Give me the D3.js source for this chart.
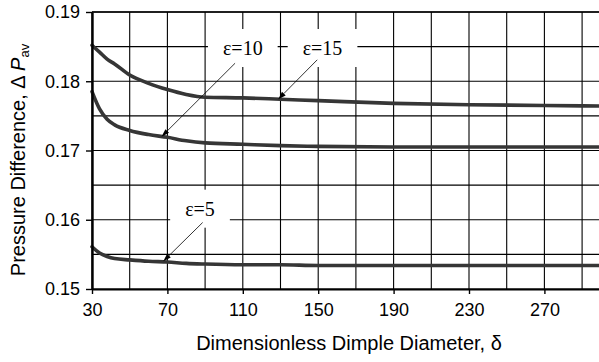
<!DOCTYPE html>
<html>
<head>
<meta charset="utf-8">
<script src="https://cdn.jsdelivr.net/npm/d3@7"></script>
<style>
  html, body { margin: 0; padding: 0; background: #fff; overflow: hidden; }
  svg { display: block; }
</style>
</head>
<body>
<div id="chart"></div>
<script>
// dimensionless dimple diameter (x)
const deltaValues = [30, 34, 38, 42, 50, 60, 70, 80, 90, 110, 130, 150, 190, 230, 270, 310];
// pressure difference for each epsilon
const eps15Values = [0.1852, 0.1842, 0.1832, 0.1825, 0.1809, 0.1797, 0.1788, 0.1781, 0.1777, 0.1776, 0.1774, 0.1772, 0.1768, 0.1766, 0.1765, 0.1764];
const eps10Values = [0.1785, 0.1760, 0.1745, 0.1737, 0.1729, 0.1723, 0.1719, 0.1714, 0.1711, 0.1709, 0.1707, 0.1706, 0.1705, 0.1705, 0.1705, 0.1705];
const eps5Values  = [0.1561, 0.1552, 0.1547, 0.1544, 0.1542, 0.1540, 0.1539, 0.1537, 0.1536, 0.1535, 0.1535, 0.1534, 0.1534, 0.1534, 0.1534, 0.1534];

const xTickValues = [30, 70, 110, 150, 190, 230, 270];
const yTickValues = [0.15, 0.16, 0.17, 0.18, 0.19];

// label text, label centre, arrow tail, arrow tip (data coords)
const annotations = [
  { text: 'ε=10', at: [110, 0.1848], from: [105.9, 0.1826], to: [66.9, 0.1720] },
  { text: 'ε=15', at: [152.3, 0.1848], from: [149.5, 0.1831], to: [128.8, 0.1774] },
  { text: 'ε=5', at: [87.3, 0.1616], from: [88.7, 0.1596], to: [67.8, 0.1540] }
];

const width = 599;
const height = 362;
const margin = { left: 92, top: 12, bottom: 73 };

const svg = d3.select('#chart')
  .append('svg')
  .attr('width', width)
  .attr('height', height);

const x = d3.scaleLinear()
  .domain([30, 310])
  .range([margin.left, margin.left + 280 * 1.885]);

const y = d3.scaleLinear()
  .domain([0.15, 0.19])
  .range([height - margin.bottom, margin.top]);

const x0 = x.range()[0], x1 = x.range()[1];
const y0 = y.range()[0], y1 = y.range()[1];

// grid
const grid = svg.append('g').attr('stroke', '#000').attr('stroke-width', 1.1);
grid.selectAll('line.v')
  .data(d3.range(30, 311, 20))
  .enter().append('line')
  .attr('x1', (d) => x(d)).attr('x2', (d) => x(d))
  .attr('y1', y1).attr('y2', y0);
grid.selectAll('line.h')
  .data(d3.range(0, 9).map((i) => 0.15 + i * 0.005))
  .enter().append('line')
  .attr('x1', x0).attr('x2', x1)
  .attr('y1', (d) => y(d)).attr('y2', (d) => y(d));

// curves
const series = [eps15Values, eps10Values, eps5Values];
const line = d3.line()
  .curve(d3.curveMonotoneX)
  .x((d, i) => x(deltaValues[i]))
  .y((d) => y(d));

svg.append('g')
  .selectAll('path')
  .data(series)
  .enter().append('path')
  .attr('fill', 'none')
  .attr('stroke', '#363636')
  .attr('stroke-width', 3.6)
  .attr('stroke-linecap', 'round')
  .attr('d', (d) => line(d));

// annotations
const ann = svg.append('g');
annotations.forEach((a) => {
  const box = ann.append('rect').attr('fill', '#fff');
  const t = ann.append('text')
    .attr('x', x(a.at[0]))
    .attr('y', y(a.at[1]))
    .attr('dy', '0.35em')
    .attr('text-anchor', 'middle')
    .attr('font-family', '"Liberation Serif", "Times New Roman", serif')
    .attr('font-size', 20)
    .text(a.text);
  const bb = t.node().getBBox();
  box.attr('x', bb.x - 15).attr('y', bb.y - 8)
    .attr('width', bb.width + 30).attr('height', bb.height + 16);

  const tx = x(a.to[0]), ty = y(a.to[1]);
  const fx = x(a.from[0]), fy = y(a.from[1]);
  const ang = Math.atan2(ty - fy, tx - fx);
  const len = 8, half = 2.6;
  const bx = tx - len * Math.cos(ang), by = ty - len * Math.sin(ang);
  ann.append('line')
    .attr('x1', fx).attr('y1', fy).attr('x2', bx).attr('y2', by)
    .attr('stroke', '#000').attr('stroke-width', 0.8);
  ann.append('path')
    .attr('fill', '#000')
    .attr('d', `M${tx},${ty}L${bx - half * Math.sin(ang)},${by + half * Math.cos(ang)}` +
      `L${bx + half * Math.sin(ang)},${by - half * Math.cos(ang)}Z`);
});

// frame / axes
svg.append('line')
  .attr('x1', x0).attr('x2', x1).attr('y1', y1).attr('y2', y1)
  .attr('stroke', '#000').attr('stroke-width', 1.6);

const xAxis = d3.axisBottom(x)
  .tickValues(xTickValues)
  .tickSizeInner(5)
  .tickSizeOuter(0)
  .tickPadding(9);
const gx = svg.append('g')
  .attr('transform', `translate(0,${y0})`)
  .call(xAxis);
gx.select('.domain').attr('stroke-width', 2.2);
gx.selectAll('.tick line').attr('stroke-width', 1.4);

const yAxis = d3.axisLeft(y)
  .tickValues(yTickValues)
  .tickFormat(d3.format('.2f'))
  .tickSizeInner(6)
  .tickSizeOuter(0)
  .tickPadding(6);
const gy = svg.append('g')
  .attr('transform', `translate(${x0},0)`)
  .call(yAxis);
gy.select('.domain').attr('stroke-width', 2.4);
gy.selectAll('.tick line').attr('stroke-width', 1.4);

svg.selectAll('.tick text')
  .attr('font-family', '"Liberation Sans", Arial, Helvetica, sans-serif')
  .attr('font-size', 18)
  .attr('fill', '#000');

// axis titles
svg.append('text')
  .attr('x', 349)
  .attr('y', 350)
  .attr('text-anchor', 'middle')
  .attr('font-family', '"Liberation Sans", Arial, Helvetica, sans-serif')
  .attr('font-size', 20)
  .text('Dimensionless Dimple Diameter, δ');

const yt = svg.append('text')
  .attr('transform', 'translate(25,160) rotate(-90)')
  .attr('text-anchor', 'middle')
  .attr('font-family', '"Liberation Sans", Arial, Helvetica, sans-serif')
  .attr('font-size', 20);
yt.append('tspan').text('Pressure Difference, Δ ');
yt.append('tspan').attr('font-style', 'italic').text('P');
yt.append('tspan').attr('font-size', 13).attr('dy', 4).text('av');
</script>
</body>
</html>
